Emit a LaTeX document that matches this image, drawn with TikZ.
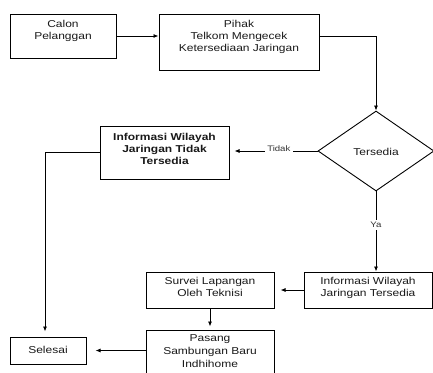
\documentclass[tikz,border=0pt]{standalone}
\usepackage{fontspec}
\setmainfont[FakeStretch=1.2]{Liberation Sans}
\usetikzlibrary{arrows.meta,shapes.geometric}
\begin{document}
\begin{tikzpicture}[x=1pt,y=-1pt,
  box/.style={draw=black, line width=1pt, rectangle, inner sep=0pt},
  txt/.style={align=center, inner sep=0pt, font=\fontsize{10}{12}\selectfont, text=black!90},
  lbl/.style={fill=white, inner sep=2.5pt, font=\fontsize{8}{9.6}\selectfont, text=black!80},
  arr/.style={draw=black, line width=0.8pt, -{Latex[length=5pt,width=4pt]}},
  ln/.style={draw=black, line width=0.8pt}]
\useasboundingbox (0,0) rectangle (433,372);
\clip (0,0) rectangle (433,372);
\fill[white] (0,0) rectangle (433,372);
% boxes
\node[box, minimum width=106pt, minimum height=44pt] (calon) at (63,36) {};
\node[txt] (calonT) at (63,30.5) {Calon\\Pelanggan};
\node[box, minimum width=160pt, minimum height=56pt] (pihak) at (239,42) {};
\node[txt] (pihakT) at (239,37.2) {Pihak\\Telkom Mengecek\\Ketersediaan Jaringan};
\node[draw=black, line width=0.9pt, diamond, inner sep=0pt, minimum width=116pt, minimum height=80pt] (dia) at (376,151) {};
\node[txt] (diaT) at (376,151.5) {Tersedia};
\node[box, minimum width=129pt, minimum height=53pt] (tidak) at (164.5,152.5) {};
\node[txt, font=\fontsize{10}{12}\selectfont\bfseries] (tidakT) at (164.5,148.7) {Informasi Wilayah\\Jaringan Tidak\\Tersedia};
\node[box, minimum width=128pt, minimum height=36pt] (infoT) at (368,290) {};
\node[txt] (infoTT) at (368,287.5) {Informasi Wilayah\\Jaringan Tersedia};
\node[box, minimum width=128pt, minimum height=36pt] (survei) at (210,290) {};
\node[txt] (surveiT) at (210,287) {Survei Lapangan\\Oleh Teknisi};
\node[box, minimum width=128pt, minimum height=60pt] (pasang) at (210,360) {};
\node[txt, font=\fontsize{10}{13}\selectfont] (pasangT) at (210,351) {Pasang\\Sambungan Baru\\Indhihome};
\node[box, minimum width=76pt, minimum height=27pt] (selesai) at (48,350.5) {};
\node[txt] (selesaiT) at (48,350) {Selesai};
% connectors
\draw[arr] (calon.east) -- (pihak.west |- calon.east);
\draw[arr] (pihak.east |- calon.east) -| (dia.north);
\draw[arr, shorten >=5pt] (dia.west) -- node[lbl, pos=0.44, yshift=2pt] (tidakL) {Tidak} (tidak.east |- dia.west);
\draw[arr, shorten >=5pt] (tidak.west) -| ([xshift=-3pt]selesai.north);
\draw[arr] (dia.south) -- node[lbl, pos=0.42] (yaL) {Ya} (infoT.north -| dia.south);
\draw[arr, shorten >=6pt] (infoT.west) -- (survei.east);
\draw[arr, shorten >=3pt] (survei.south) -- (pasang.north);
\draw[arr, shorten >=9pt] (pasang.west |- selesai.east) -- (selesai.east);
\end{tikzpicture}
\end{document}
